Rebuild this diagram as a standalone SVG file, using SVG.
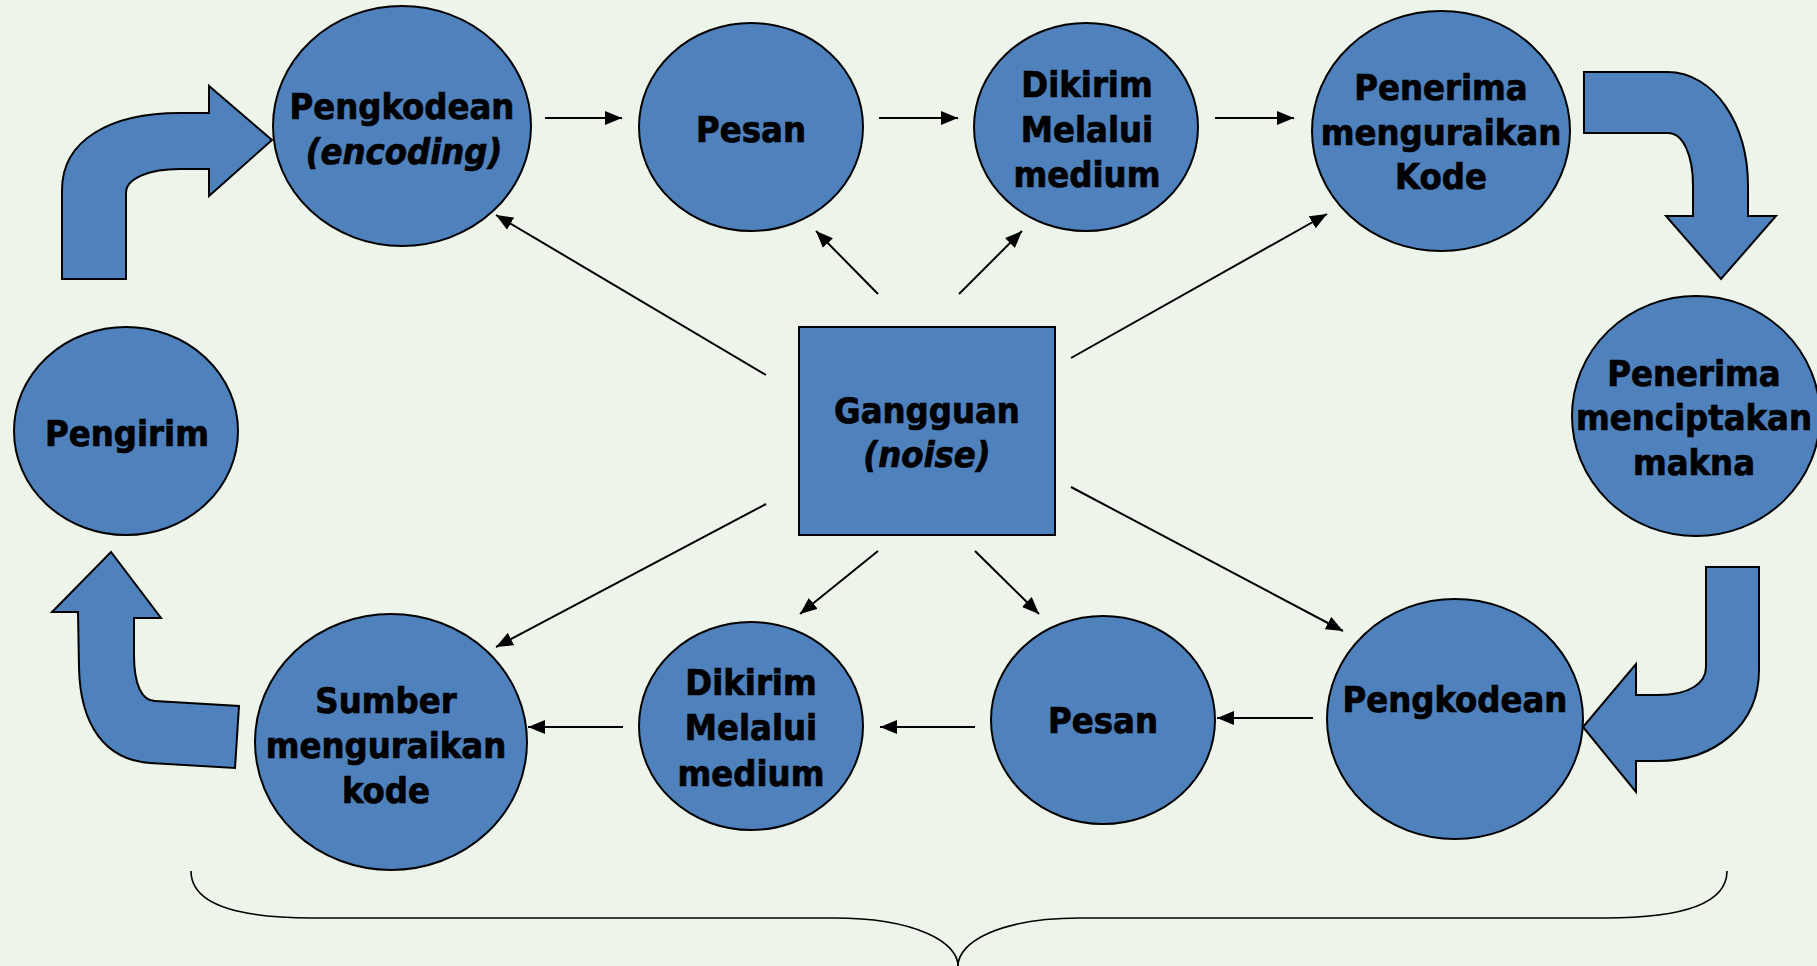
<svg xmlns="http://www.w3.org/2000/svg" width="1817" height="966" viewBox="0 0 1817 966">
  <style>
    .node { fill: #4F81BD; stroke: #000; stroke-width: 2; }
    .block { fill: #4F81BD; stroke: #000; stroke-width: 2; stroke-linejoin: miter; }
    .lbl { font-family: "DejaVu Sans Condensed", "DejaVu Sans", "Liberation Sans", sans-serif; font-stretch: condensed; font-weight: bold; font-size: 36px; fill: #000; stroke: #000; stroke-width: 0.7; text-anchor: middle; }
    .it { font-style: italic; }
    .conn { stroke: #000; stroke-width: 2; fill: none; marker-end: url(#tip); }
    .brace { stroke: #000; stroke-width: 1.6; fill: none; }
  </style>
  <defs>
    <marker id="tip" markerUnits="userSpaceOnUse" markerWidth="18" markerHeight="14" refX="17" refY="7" orient="auto">
      <path d="M0,0 L17,7 L0,14 Z" fill="#000"/>
    </marker>
  </defs>

  <rect width="1817" height="966" fill="#EDF5EA"/>

  <!-- block arrows of the outer loop -->
  <g id="loop-arrows">
    <path class="block" d="M62,279 L62,190 C62,140 110,113 180,113 L209,113 L209,86 L272,140 L209,196 L209,169 L180,169 C150,169 126,178 126,193 L126,279 Z"/>
    <path class="block" d="M1584,72 L1667,72 C1715,72 1748,125 1748,186 L1748,216 L1776,216 L1721,279 L1666,216 L1693,216 L1693,186 C1693,155 1683,133 1668,133 L1584,133 Z"/>
    <path class="block" d="M1706,567 L1759,567 L1759,670 C1759,725 1715,761 1658,761 L1636,761 L1636,792 L1583,727 L1636,664 L1636,695 L1658,695 C1690,695 1706,683 1706,667 Z"/>
    <path class="block" d="M239,706 L235,768 L150,763 C105,760 80,725 79,667 L78,612 L52,612 L111,552 L161,618 L134,618 L134,655 C134,685 142,701 155,701 Z"/>
  </g>

  <!-- connectors -->
  <g id="connectors">
    <line class="conn" x1="545" y1="118" x2="622" y2="118"/>
    <line class="conn" x1="879" y1="118" x2="958" y2="118"/>
    <line class="conn" x1="1215" y1="118" x2="1294" y2="118"/>
    <line class="conn" x1="623" y1="727" x2="528" y2="727"/>
    <line class="conn" x1="975" y1="727" x2="880" y2="727"/>
    <line class="conn" x1="1313" y1="718" x2="1217" y2="718"/>
    <line class="conn" x1="766" y1="375" x2="496" y2="215"/>
    <line class="conn" x1="878" y1="294" x2="816" y2="231"/>
    <line class="conn" x1="959" y1="294" x2="1022" y2="231"/>
    <line class="conn" x1="1071" y1="358" x2="1327" y2="214"/>
    <line class="conn" x1="766" y1="504" x2="496" y2="647"/>
    <line class="conn" x1="878" y1="551" x2="800" y2="614"/>
    <line class="conn" x1="975" y1="551" x2="1039" y2="614"/>
    <line class="conn" x1="1071" y1="487" x2="1343" y2="631"/>
  </g>

  <g id="pengkodean-top">
    <ellipse class="node" cx="402" cy="126" rx="129" ry="120"/>
    <text class="lbl" x="402" y="119">Pengkodean</text>
    <text class="lbl it" x="404" y="164">(encoding)</text>
  </g>
  <g id="pesan-top">
    <ellipse class="node" cx="751" cy="127" rx="112" ry="104"/>
    <text class="lbl" x="751" y="142">Pesan</text>
  </g>
  <g id="dikirim-top">
    <ellipse class="node" cx="1086" cy="127" rx="112" ry="104"/>
    <text class="lbl" x="1087" y="97">Dikirim</text>
    <text class="lbl" x="1087" y="142">Melalui</text>
    <text class="lbl" x="1087" y="187">medium</text>
  </g>
  <g id="penerima-urai">
    <ellipse class="node" cx="1441" cy="131" rx="129" ry="120"/>
    <text class="lbl" x="1441" y="100">Penerima</text>
    <text class="lbl" x="1441" y="145">menguraikan</text>
    <text class="lbl" x="1441" y="189">Kode</text>
  </g>
  <g id="penerima-makna">
    <ellipse class="node" cx="1696" cy="416" rx="124" ry="120"/>
    <text class="lbl" x="1694" y="386">Penerima</text>
    <text class="lbl" x="1694" y="430">menciptakan</text>
    <text class="lbl" x="1694" y="475">makna</text>
  </g>
  <g id="pengirim">
    <ellipse class="node" cx="126" cy="431" rx="112" ry="104"/>
    <text class="lbl" x="127" y="446">Pengirim</text>
  </g>
  <g id="sumber">
    <ellipse class="node" cx="391" cy="742" rx="136" ry="128"/>
    <text class="lbl" x="386" y="713">Sumber</text>
    <text class="lbl" x="386" y="758">menguraikan</text>
    <text class="lbl" x="386" y="803">kode</text>
  </g>
  <g id="dikirim-bottom">
    <ellipse class="node" cx="751" cy="726" rx="112" ry="104"/>
    <text class="lbl" x="751" y="695">Dikirim</text>
    <text class="lbl" x="751" y="740">Melalui</text>
    <text class="lbl" x="751" y="786">medium</text>
  </g>
  <g id="pesan-bottom">
    <ellipse class="node" cx="1103" cy="720" rx="112" ry="104"/>
    <text class="lbl" x="1103" y="733">Pesan</text>
  </g>
  <g id="pengkodean-bottom">
    <ellipse class="node" cx="1455" cy="719" rx="128" ry="120"/>
    <text class="lbl" x="1455" y="712">Pengkodean</text>
  </g>
  <g id="gangguan">
    <rect class="node" x="799" y="327" width="256" height="208"/>
    <text class="lbl" x="927" y="423">Gangguan</text>
    <text class="lbl it" x="927" y="467">(noise)</text>
  </g>

  <!-- curly brace under the loop -->
  <g id="brace">
    <path class="brace" d="M191,871 C191,905 240,918 313,918 L834,918 C915,918 958,942 958,966"/>
    <path class="brace" d="M958,966 C958,942 1000,918 1080,918 L1605,918 C1680,918 1727,905 1727,871"/>
  </g>
</svg>
